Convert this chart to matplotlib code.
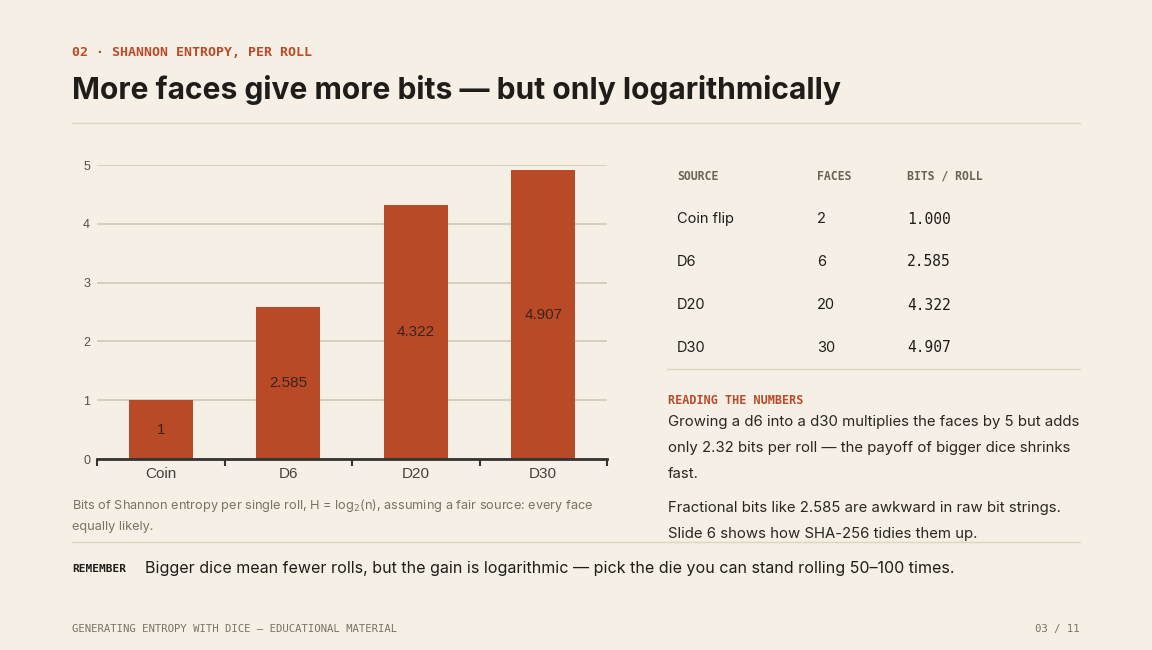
import matplotlib
matplotlib.use("Agg")
import matplotlib.pyplot as plt
from matplotlib.lines import Line2D

W, H = 1152, 650
BG = "#f5efe5"
RED = "#b94a28"
INK = "#1f1d1a"
GRAY = "#7a7265"
RULE = "#ddd5c4"

SANS = ["Inter", "DejaVu Sans"]
MONO = ["DejaVu Sans Mono"]
CHART = ["Liberation Sans", "DejaVu Sans"]

# data
categories = ["Coin", "D6", "D20", "D30"]
bits = [1, 2.585, 4.322, 4.907]
bar_labels = ["1", "2.585", "4.322", "4.907"]

table_header = ["SOURCE", "FACES", "BITS / ROLL"]
sources = ["Coin flip", "D6", "D20", "D30"]
faces = ["2", "6", "20", "30"]
bits_text = ["1.000", "2.585", "4.322", "4.907"]


def fx(x):
    return x / W


def fy(y):
    return 1 - y / H


def txt(x, y, s, **kw):
    kw.setdefault("va", "center")
    fig.text(fx(x), fy(y), s, **kw)


def hline(y, x0, x1, color=RULE, lw=1.0):
    fig.add_artist(Line2D([fx(x0), fx(x1)], [fy(y), fy(y)], color=color, lw=lw,
                          transform=fig.transFigure))


fig = plt.figure(figsize=(W / 100, H / 100), dpi=100, facecolor=BG)

# header
txt(72, 53, "02 · SHANNON ENTROPY, PER ROLL", family=MONO, weight="bold", size=9.5, color=RED)
txt(72, 90, "More faces give more bits — but only logarithmically", family=SANS,
    weight="bold", size=21.6, color=INK)
hline(123, 72, 1080)

# chart
ax = fig.add_axes([fx(97), fy(459), (607 - 97) / W, (459 - 165) / H])
ax.set_facecolor(BG)
ax.bar(range(len(categories)), bits, width=0.5, color=RED, zorder=3)
for i, (v, lab) in enumerate(zip(bits, bar_labels)):
    ax.text(i, v / 2, lab, ha="center", va="center",
            family=CHART, size=11, color="#3a2418", zorder=4)
ax.set_xlim(-0.5, 3.5)
ax.set_ylim(0, 5)
ax.set_yticks([0, 1, 2, 3, 4, 5])
ax.yaxis.grid(True, color="#d4ccbd", lw=1.3, zorder=0)
ax.tick_params(axis="y", length=0, pad=5, labelsize=9, labelcolor="#555049")
for lbl in ax.get_yticklabels():
    lbl.set_family(CHART)
ax.set_xticks([-0.5, 0.5, 1.5, 2.5, 3.5])
ax.set_xticklabels([])
ax.tick_params(axis="x", length=5, width=1.5, color="#333333")
for i, c in enumerate(categories):
    ax.text(i, -0.14, c, ha="center", va="top", family=CHART, size=11, color="#444040")
for s in ["top", "right", "left"]:
    ax.spines[s].set_visible(False)
ax.spines["bottom"].set_color("#333333")
ax.spines["bottom"].set_linewidth(2)
ax.spines["bottom"].set_zorder(5)

txt(72, 506, "Bits of Shannon entropy per single roll, H = log$_2$(n), assuming a fair source: every face",
    family=SANS, size=9.2, color=GRAY)
txt(72, 527, "equally likely.", family=SANS, size=9.2, color=GRAY)

# table
cols = [677, 817, 907]
for x, h in zip(cols, table_header):
    txt(x, 176, h, family=MONO, weight="bold", size=8.3, color="#6b6355")
for i in range(len(sources)):
    y = 219 + 43 * i
    txt(cols[0], y, sources[i], family=SANS, size=10.5, color=INK)
    txt(cols[1], y, faces[i], family=SANS, size=10.5, color=INK)
    txt(cols[2], y, bits_text[i], family=MONO, size=10.5, color=INK)
hline(369, 667, 1080)

txt(668, 400, "READING THE NUMBERS", family=MONO, weight="bold", size=8.5, color=RED)
para = [
    "Growing a d6 into a d30 multiplies the faces by 5 but adds",
    "only 2.32 bits per roll — the payoff of bigger dice shrinks",
    "fast.",
]
for i, line in enumerate(para):
    txt(668, 422 + 26 * i, line, family=SANS, size=10.75, color="#2a2620")
para2 = [
    "Fractional bits like 2.585 are awkward in raw bit strings.",
    "Slide 6 shows how SHA-256 tidies them up.",
]
for i, line in enumerate(para2):
    txt(668, 508 + 26 * i, line, family=SANS, size=10.75, color="#2a2620")

hline(542, 72, 1080)
txt(72, 569, "REMEMBER", family=MONO, weight="bold", size=8, color=INK)
txt(145, 569, "Bigger dice mean fewer rolls, but the gain is logarithmic — pick the die you can stand rolling 50–100 times.",
    family=SANS, size=11.55, color=INK)

txt(72, 629, "GENERATING ENTROPY WITH DICE — EDUCATIONAL MATERIAL", family=MONO, size=7.7, color=GRAY)
txt(1080, 629, "03 / 11", family=MONO, size=7.7, color=GRAY, ha="right")

fig.savefig("out.png", dpi=100, facecolor=BG)
